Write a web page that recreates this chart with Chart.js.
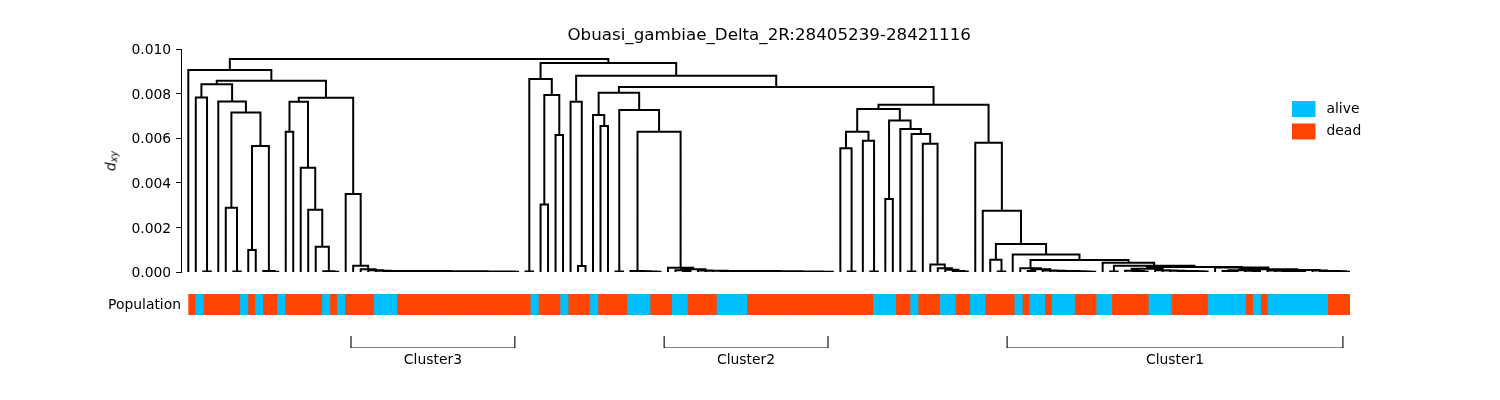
<!DOCTYPE html>
<html>
<head>
<meta charset="utf-8">
<script src="https://cdn.jsdelivr.net/npm/chart.js@4.4.1/dist/chart.umd.min.js"></script>
<style>
html,body{margin:0;padding:0;background:#fff;}
#wrap{position:relative;width:1500px;height:400px;overflow:hidden;background:#fff;}
#wrap canvas{position:absolute;left:0;top:0;}
#ylab{position:absolute;left:111.5px;top:161px;transform:translate(-50%,-50%) rotate(-90deg);
  font-family:'DejaVu Sans',sans-serif;font-size:13.9px;line-height:1;color:#000;white-space:nowrap;}
#ylab sub{font-size:9.7px;vertical-align:-0.25em;line-height:1;}
</style>
</head>
<body>
<div id="wrap">
  <canvas id="dendro" width="1500" height="400"></canvas>
  <canvas id="pop" width="1500" height="400"></canvas>
  <canvas id="clus" width="1500" height="400"></canvas>
  <div id="ylab"><i>d</i><sub><i>xy</i></sub></div>
</div>
<script>
// ---------------- DATA ----------------
const chartTitle = 'Obuasi_gambiae_Delta_2R:28405239-28421116';

// Population status of each leaf, in dendrogram leaf order (1 = alive, 0 = dead)
const population = [
  0,1,0,0,0,0,0,1,0,1,
  0,0,1,0,0,0,0,0,1,0,
  1,0,0,0,0,1,1,1,0,0,
  0,0,0,0,0,0,0,0,0,0,
  0,0,0,0,0,0,1,0,0,0,
  1,0,0,0,1,0,0,0,0,1,
  1,1,0,0,0,1,1,0,0,0,
  0,1,1,1,1,0,0,0,0,0,
  0,0,0,0,0,0,0,0,0,0,
  0,0,1,1,1,0,0,1,0,0,
  0,1,1,0,0,1,1,0,0,0,
  0,1,0,1,1,0,1,1,1,0,
  0,0,1,1,0,0,0,0,0,1,
  1,1,0,0,0,0,0,1,1,1,
  1,1,0,1,0,1,1,1,1,1,
  1,1,1,0,0,0
];
const populationLabels = ['alive', 'dead'];
const populationColors = ['#00BFFF', '#FF4500'];

// d_xy at which leaf i and leaf i+1 are joined (cophenetic distance of adjacent leaves)
const mergeHeights = [
  0.00906, 0.00783, 0.00002, 0.00842, 0.00765, 0.00288, 0.00002, 0.00715, 0.00099, 0.00565, // 0-9
  0.00004, 0.00001, 0.00858, 0.00629, 0.00764, 0.00468, 0.00279, 0.00113, 0.00003, 0.00001, // 10-19
  0.00781, 0.00350, 0.00028, 0.00012, 0.00008,                                                 // 20-24
  0.00006, 0.00005, 0.00005, 0.00005, 0.00004, 0.00004, 0.00004, 0.00004, 0.00004, 0.00003, // 25-34
  0.00003, 0.00003, 0.00003, 0.00003, 0.00002, 0.00002, 0.00002, 0.00002, 0.00001,          // 35-43
  0.00955, 0.00002, 0.00865, 0.00303, 0.00794, 0.00614,                                       // 44-49
  0.00937, 0.00764, 0.00027, 0.00880, 0.00704, 0.00655, 0.00804, 0.00002, 0.00726, 0.00004, // 50-59
  0.00003, 0.00002, 0.00001, 0.00629, 0.00019, 0.00008, 0.00004, 0.00012,                     // 60-67
  0.00007, 0.00006, 0.00006, 0.00005, 0.00005, 0.00005, 0.00004, 0.00004, 0.00004, 0.00004, // 68-77
  0.00003, 0.00003, 0.00003, 0.00002, 0.00002, 0.00002, 0.00001, 0.00001,                     // 78-85
  0.00830, 0.00555, 0.00002, 0.00629, 0.00589, 0.00002, 0.00731, 0.00327, 0.00679, 0.00641, // 86-95
  0.00002, 0.00619, 0.00575, 0.00034, 0.00017, 0.00010, 0.00005, 0.00002,                     // 96-103
  0.00750, 0.00580, 0.00275, 0.00055, 0.00002, 0.00126, 0.00078, 0.00017, 0.00005, 0.00012, // 104-113
  0.00007, 0.00006, 0.00005, 0.00004, 0.00003, 0.00002, 0.00001,                              // 114-120
  0.00054, 0.00042, 0.00002, 0.00028, 0.00006, 0.00004, 0.00002, 0.00015,                     // 121-128
  0.00008, 0.00007, 0.00006, 0.00005, 0.00004, 0.00003, 0.00002,                              // 129-135
  0.00022, 0.00020, 0.00005, 0.00002, 0.00008, 0.00006, 0.00003, 0.00012,                     // 136-143
  0.00007, 0.00006, 0.00005, 0.00004, 0.00002, 0.00009,                                       // 144-149
  0.00007, 0.00005, 0.00004, 0.00003, 0.00001                                                 // 150-154
];

const yTickValues = [0, 0.002, 0.004, 0.006, 0.008, 0.010];

// Cluster brackets, in population-cell units
const clusterNames = ['Cluster3', 'Cluster2', 'Cluster1'];
const clusterStart = [21.85, 63.9, 109.95];
const clusterEnd   = [43.85, 85.9, 155.05];

// ---------------- BUILD ----------------
Chart.defaults.font.family = "'DejaVu Sans', sans-serif";
Chart.defaults.color = '#000';
const leafCount = population.length;
const FONT = 13.9;

// Dendrogram links from the adjacent-leaf merge heights
const linkPoints = [];
function buildNode(a, b) {
  if (a === b) return { x: a, h: 0 };
  let k = a;
  for (let i = a + 1; i < b; i++) if (mergeHeights[i] > mergeHeights[k]) k = i;
  const L = buildNode(a, k);
  const R = buildNode(k + 1, b);
  const h = mergeHeights[k];
  linkPoints.push({ x: L.x, y: L.h }, { x: L.x, y: h }, { x: R.x, y: h }, { x: R.x, y: R.h }, { x: R.x, y: null });
  return { x: (L.x + R.x) / 2, h: h };
}
buildNode(0, leafCount - 1);

new Chart(document.getElementById('dendro'), {
  type: 'line',
  data: {
    datasets: [{
      data: linkPoints,
      borderColor: '#000',
      borderWidth: 2,
      pointRadius: 0,
      spanGaps: false,
      tension: 0,
      fill: false,
      borderCapStyle: 'square',
      borderJoinStyle: 'miter'
    }]
  },
  options: {
    responsive: false,
    animation: false,
    events: [],
    layout: { padding: { top: 49, right: 150, bottom: 128, left: 0 } },
    plugins: { legend: { display: false }, tooltip: { enabled: false }, title: { display: false } },
    scales: {
      x: { type: 'linear', min: -0.974, max: leafCount - 1, display: false },
      y: {
        type: 'linear', min: 0, max: 0.01,
        afterBuildTicks: s => { s.ticks = yTickValues.map(v => ({ value: v })); },
        ticks: { callback: v => Number(v).toFixed(3), font: { size: FONT }, color: '#000', padding: 4.9, labelOffset: 1.5 },
        grid: { display: true, drawOnChartArea: false, drawTicks: true, tickLength: 4.9, tickColor: '#000', tickWidth: 1 },
        border: { display: true, color: '#000', width: 1 },
        afterFit: s => { s.width = 181; }
      }
    }
  }
});

// Population bar
const popDatasets = populationLabels.map((lab, j) => ({
  label: lab,
  backgroundColor: populationColors[j],
  borderWidth: 0,
  grouped: false,
  barPercentage: 1,
  categoryPercentage: 1,
  data: population
    .map((v, i) => ((j === 0 ? v === 1 : v === 0) ? { x: [i, i + 1], y: 'Population' } : null))
    .filter(Boolean)
}));

const insideLegend = {
  id: 'insideLegend',
  afterDraw(chart) {
    const ctx = chart.ctx;
    ctx.save();
    chart.data.datasets.forEach((ds, i) => {
      const y = 101 + i * 22.5;
      ctx.fillStyle = ds.backgroundColor;
      ctx.fillRect(1292, y, 23.5, 16);
      ctx.fillStyle = '#000';
      ctx.font = FONT + "px 'DejaVu Sans'";
      ctx.textBaseline = 'middle';
      ctx.textAlign = 'left';
      ctx.fillText(ds.label, 1326.5, y + 8);
    });
    ctx.restore();
  }
};

new Chart(document.getElementById('pop'), {
  type: 'bar',
  data: { labels: ['Population'], datasets: popDatasets },
  plugins: [insideLegend],
  options: {
    responsive: false,
    animation: false,
    events: [],
    indexAxis: 'y',
    layout: { padding: { top: 0, right: 150, bottom: 85, left: 0 } },
    plugins: {
      legend: { display: false },
      tooltip: { enabled: false },
      title: {
        display: true, text: chartTitle, fullSize: false,
        font: { size: 16.7, weight: 'normal' }, color: '#000',
        padding: { top: 26, bottom: 247.96 }
      }
    },
    scales: {
      x: { type: 'linear', min: 0, max: leafCount, display: false },
      y: {
        type: 'category',
        grid: { display: false, drawTicks: false },
        border: { display: false },
        ticks: { font: { size: FONT }, color: '#000', padding: 7.3, labelOffset: 1 },
        afterFit: s => { s.width = 188.3; }
      }
    }
  }
});

// Cluster brackets
const bracketPoints = [];
clusterNames.forEach((n, i) => {
  bracketPoints.push({ x: clusterStart[i], y: 1 }, { x: clusterStart[i], y: 0 },
                     { x: clusterEnd[i], y: 0 }, { x: clusterEnd[i], y: 1 }, { x: clusterEnd[i], y: null });
});
const clusterCenters = clusterNames.map((n, i) => (clusterStart[i] + clusterEnd[i]) / 2);

new Chart(document.getElementById('clus'), {
  type: 'line',
  data: {
    datasets: [{
      data: bracketPoints, borderColor: '#000', borderWidth: 1.1, pointRadius: 0,
      spanGaps: false, tension: 0, fill: false, borderJoinStyle: 'miter'
    }]
  },
  options: {
    responsive: false,
    animation: false,
    events: [],
    layout: { padding: { top: 336, right: 150, bottom: 22, left: 188.3 } },
    plugins: { legend: { display: false }, tooltip: { enabled: false } },
    scales: {
      x: {
        type: 'linear', min: 0, max: leafCount,
        afterBuildTicks: s => { s.ticks = clusterCenters.map(v => ({ value: v })); },
        ticks: { callback: (v, i) => clusterNames[i], font: { size: FONT }, color: '#000', padding: 4.5, autoSkip: false, maxRotation: 0 },
        grid: { display: false, drawTicks: false },
        border: { display: false },
        afterFit: s => { s.height = 30; }
      },
      y: { type: 'linear', min: 0, max: 1, display: false }
    }
  }
});
</script>
</body>
</html>
